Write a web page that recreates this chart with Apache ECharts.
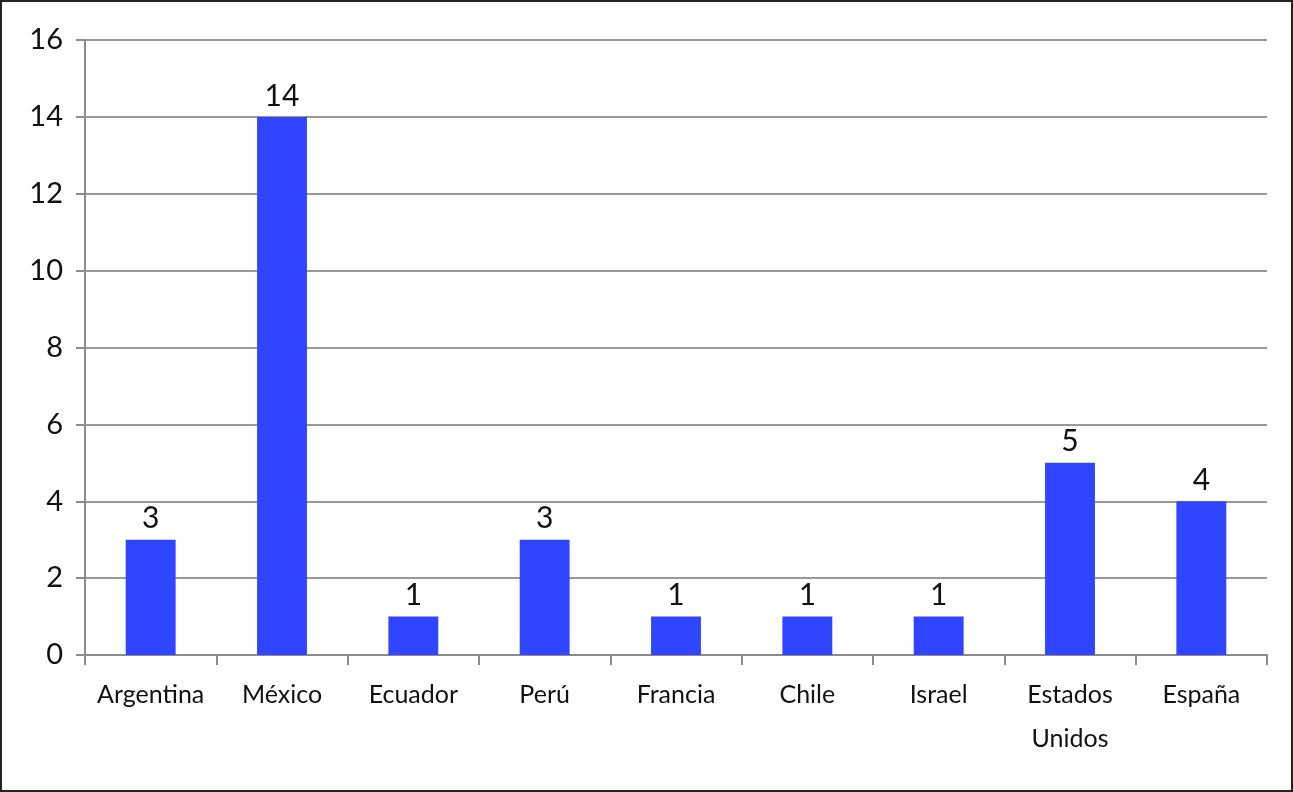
<!DOCTYPE html>
<html>
<head>
<meta charset="utf-8">
<script src="https://cdn.jsdelivr.net/npm/echarts@6/dist/echarts.min.js"></script>
<style>
  html, body { margin: 0; padding: 0; background: #fff; }
  #chart {
    width: 1293px;
    height: 792px;
    box-sizing: border-box;
    border: 2px solid #222;
  }
</style>
</head>
<body>
<div id="chart"></div>
<script>
// datos
var paises = ['Argentina', 'México', 'Ecuador', 'Perú', 'Francia', 'Chile', 'Israel', 'Estados\nUnidos', 'España'];
var cantidades = [3, 14, 1, 3, 1, 1, 1, 5, 4];
var yMin = 0;
var yMax = 16;
var yPaso = 2;

var myChart = echarts.init(document.getElementById('chart'));
var grisEje = '#8c8c8c';

var option = {
  animation: false,
  grid: {
    left: 83,
    right: 24,
    top: 38,
    bottom: 135
  },
  xAxis: {
    type: 'category',
    data: paises,
    axisLine: { show: true, lineStyle: { color: grisEje, width: 2 } },
    axisTick: { show: true, alignWithLabel: false, length: 10, lineStyle: { color: grisEje, width: 2 } },
    axisLabel: {
      color: '#111',
      fontFamily: 'Lato',
      fontSize: 25,
      lineHeight: 44,
      margin: 18,
      interval: 0
    }
  },
  yAxis: {
    type: 'value',
    min: yMin,
    max: yMax,
    interval: yPaso,
    axisLine: { show: true, lineStyle: { color: grisEje, width: 2 } },
    axisTick: { show: true, length: 9, lineStyle: { color: grisEje, width: 2 } },
    splitLine: { show: true, lineStyle: { color: '#999', width: 2 } },
    axisLabel: {
      color: '#111',
      fontFamily: 'Lato',
      fontSize: 29,
      margin: 22
    }
  },
  series: [
    {
      type: 'bar',
      data: cantidades,
      barWidth: '38%',
      itemStyle: { color: '#3045ff' },
      label: {
        show: true,
        position: 'top',
        distance: 6,
        color: '#111',
        fontFamily: 'Lato',
        fontSize: 30
      }
    }
  ]
};

myChart.setOption(option);
</script>
</body>
</html>
